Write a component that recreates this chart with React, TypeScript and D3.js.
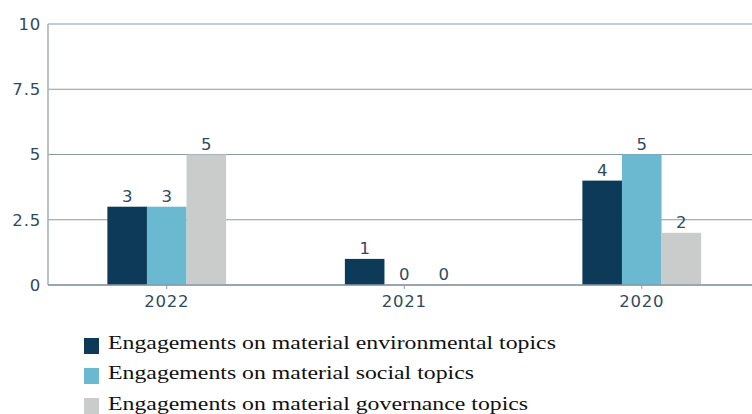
import React from "react";
import * as d3 from "d3";

const categories = ["2022", "2021", "2020"];
const seriesNames = [
  "Engagements on material environmental topics",
  "Engagements on material social topics",
  "Engagements on material governance topics",
];
const environmental = [3, 1, 4];
const social = [3, 0, 5];
const governance = [5, 0, 2];
const yTicks = [0, 2.5, 5, 7.5, 10];
const colors = ["#0d3a58", "#6bb8d1", "#c9cccb"];

export default function App() {
  const W = 752, H = 414;
  const left = 48, top = 24, bottom = 285;
  const series = [environmental, social, governance];
  const x = d3.scaleBand<string>().domain(categories).range([left, 760.5]).paddingInner(0.5).paddingOuter(0.25);
  const xs = d3.scaleBand<number>().domain([0, 1, 2]).range([0, x.bandwidth()]);
  const y = d3.scaleLinear().domain([0, 10]).range([bottom, top]);
  const axisFont = "'DejaVu Sans', Verdana, sans-serif";
  const textColor = "#2f4b5f";
  const ls = 0.8;
  return (
    <svg width={W} height={H} style={{ position: "absolute", left: 0, top: 0 }}>
      <rect width={W} height={H} fill="#fff" />
      {yTicks.map((t) => (
        <g key={t}>
          <line x1={left} x2={W} y1={y(t)} y2={y(t)} stroke="#8a9aa6" strokeWidth={1.2} />
          <text x={41} y={y(t)} dy="0.35em" textAnchor="end" fontFamily={axisFont} fontSize={16.5} letterSpacing={ls} fill={textColor}>
            {t}
          </text>
        </g>
      ))}
      <line x1={left} x2={left} y1={top} y2={bottom} stroke="#a4afb7" strokeWidth={1.5} />
      {categories.map((c, ci) => (
        <g key={c}>
          {series.map((s, si) => {
            const bx = (x(c) as number) + (xs(si) as number);
            return (
              <g key={si}>
                <rect x={bx} y={y(s[ci])} width={xs.bandwidth()} height={bottom - y(s[ci])} fill={colors[si]} />
                <text x={bx + xs.bandwidth() / 2} y={y(s[ci]) - 5} textAnchor="middle" fontFamily={axisFont} fontSize={16.5} fill={textColor}>
                  {s[ci]}
                </text>
              </g>
            );
          })}
          <line x1={(x(c) as number) + x.bandwidth() / 2} x2={(x(c) as number) + x.bandwidth() / 2} y1={bottom} y2={bottom + 4} stroke="#8a9aa6" />
          <text x={(x(c) as number) + x.bandwidth() / 2} y={307} textAnchor="middle" fontFamily={axisFont} fontSize={16.5} letterSpacing={ls} fill={textColor}>
            {c}
          </text>
        </g>
      ))}
      <line x1={left} x2={W} y1={bottom} y2={bottom} stroke="#8a9aa6" strokeWidth={1.5} />
      {seriesNames.map((n, i) => (
        <g key={n}>
          <rect x={84} y={338 + i * 30} width={15} height={16} fill={colors[i]} />
          <text transform={`translate(108, ${349 + i * 30.3}) scale(1.22, 1)`} fontFamily="'Liberation Serif', 'Times New Roman', serif" fontSize={19.5} fill="#111">
            {n}
          </text>
        </g>
      ))}
    </svg>
  );
}
